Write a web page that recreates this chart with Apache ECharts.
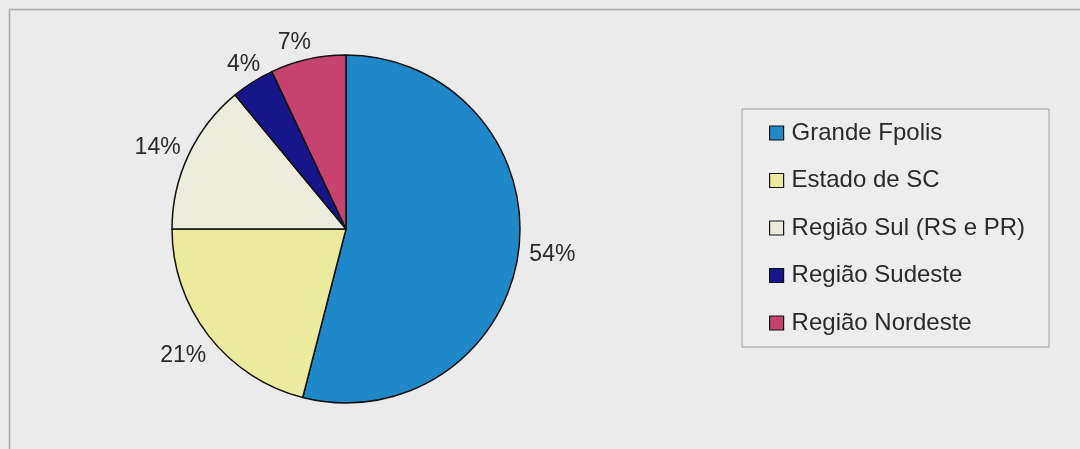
<!DOCTYPE html>
<html>
<head>
<meta charset="utf-8">
<script src="https://cdn.jsdelivr.net/npm/echarts@6/dist/echarts.min.js"></script>
<style>
  html, body { margin: 0; padding: 0; background: #ebebeb; }
  #chart { width: 1080px; height: 449px; }
</style>
</head>
<body>
<div id="chart"></div>
<script>
  // regiões de origem (%)
  var categories = ['Grande Fpolis', 'Estado de SC', 'Região Sul (RS e PR)', 'Região Sudeste', 'Região Nordeste'];
  var values = [54, 21, 14, 4, 7];
  var colors = ['#1f88c9', '#ecea9c', '#ececdc', '#16168a', '#c7436f'];

  var FONT = '"Liberation Sans", Arial, sans-serif';
  // distancia do rotulo ate a borda da fatia (estilo, nao dado)
  var labelGap = [34, 32, 32, 21, 17];
  var labelNudge = [[0, 0], [0, 0], [-2, 6], [2, 0], [-10, 0]];

  var chart = echarts.init(document.getElementById('chart'));

  var pieData = categories.map(function (name, i) {
    return { name: name, value: values[i], labelLine: { length: labelGap[i] } };
  });

  chart.setOption({
    backgroundColor: '#ebebeb',
    color: colors,
    animation: false,
    graphic: [{
      type: 'rect',
      shape: { x: 9.5, y: 9.5, width: 1200, height: 600 },
      style: { fill: 'none', stroke: '#a8a8a8', lineWidth: 1.5 },
      silent: true
    }],
    legend: {
      orient: 'vertical',
      left: 742,
      top: 109,
      data: categories,
      icon: 'rect',
      itemWidth: 14,
      itemHeight: 14,
      itemGap: 23.5,
      padding: [12, 24, 12, 27],
      borderColor: '#a0a0a0',
      borderWidth: 1,
      backgroundColor: '#ededed',
      selectedMode: false,
      itemStyle: { borderColor: '#111', borderWidth: 1.2 },
      textStyle: { fontFamily: FONT, fontSize: 24, lineHeight: 24, color: '#2a2a2a', padding: [0, 0, 0, 3] }
    },
    series: [{
      type: 'pie',
      center: [346, 229],
      radius: 174,
      startAngle: 90,
      clockwise: true,
      avoidLabelOverlap: false,
      data: pieData,
      itemStyle: { borderColor: '#111', borderWidth: 1.5 },
      label: {
        show: true,
        position: 'outside',
        formatter: '{d}%',
        fontFamily: FONT,
        fontSize: 23,
        color: '#2a2a2a',
        distanceToLabelLine: 0
      },
      labelLine: { show: false, length: 26, length2: 0 },
      labelLayout: function (p) {
        var n = labelNudge[p.dataIndex];
        return { align: 'center', dx: n[0], dy: n[1] };
      }
    }]
  });
</script>
</body>
</html>
